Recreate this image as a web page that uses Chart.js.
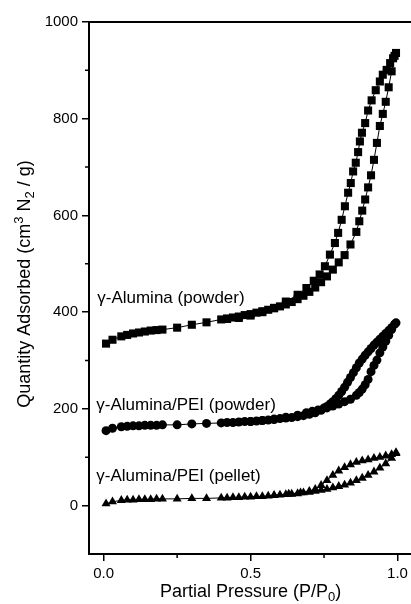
<!DOCTYPE html>
<html>
<head>
<meta charset="utf-8">
<script src="https://cdn.jsdelivr.net/npm/chart.js@4/dist/chart.umd.min.js"></script>
<style>
  html, body { margin: 0; padding: 0; background: #fff; }
  canvas { display: block; }
</style>
</head>
<body>
<canvas id="iso" width="411" height="604"></canvas>
<script>
// N2 physisorption isotherms: adsorption branch (rising P/P0) then desorption branch (falling P/P0)
const aluminaAdsP = [0.008,0.03,0.06,0.08,0.10,0.12,0.14,0.16,0.18,0.20,0.25,0.30,0.35,0.40,0.42,0.44,0.46,0.48,0.50,0.52,0.54,0.56,0.58,0.60,0.62,0.64,0.66,0.68,0.70,0.72,0.74,0.76,0.78,0.80,0.82,0.84,0.86,0.87,0.88,0.89,0.90,0.91,0.92,0.93,0.94,0.95,0.96,0.97,0.98,0.99];
const aluminaAdsQ = [335,343,350,353,356,358,360,362,363,364,368,374,379,385,387,389,391,394,396,399,402,405,408,412,416,421,427,434,442,451,462,474,488,503,518,540,566,588,610,633,658,683,715,750,785,810,835,865,898,930];
const aluminaDesP = [0.995,0.985,0.975,0.963,0.95,0.94,0.926,0.912,0.90,0.89,0.879,0.872,0.866,0.858,0.849,0.841,0.832,0.821,0.81,0.798,0.787,0.77,0.753,0.735,0.715,0.69,0.66,0.62,0.58,0.54,0.50,0.46,0.42];
const aluminaDesQ = [936,925,915,901,891,877,859,838,817,791,771,753,731,709,691,667,647,619,591,564,543,519,495,478,465,450,436,422,409,400,393,388,386];

const peiPowderAdsP = [0.008,0.03,0.06,0.08,0.10,0.12,0.14,0.16,0.18,0.20,0.25,0.30,0.35,0.40,0.42,0.44,0.46,0.48,0.50,0.52,0.54,0.56,0.58,0.60,0.62,0.64,0.66,0.68,0.70,0.72,0.74,0.76,0.78,0.80,0.82,0.84,0.86,0.87,0.88,0.89,0.90,0.91,0.92,0.93,0.94,0.95,0.96,0.97,0.98,0.99];
const peiPowderAdsQ = [155,160,163,164,165,165,166,166,166,167,167,169,170,171,172,172,173,174,174,175,176,177,178,180,181,182,184,186,189,192,197,202,206,210,215,220,228,234,241,250,261,277,290,301,316,328,340,352,364,375];
const peiPowderDesP = [0.995,0.98,0.97,0.96,0.95,0.94,0.93,0.92,0.91,0.90,0.89,0.88,0.87,0.86,0.85,0.84,0.83,0.82,0.81,0.80,0.79,0.78,0.77,0.76,0.75,0.73,0.71,0.69,0.66,0.62,0.58,0.54,0.50];
const peiPowderDesQ = [378,368,362,356,350,344,338,332,325,318,311,303,295,285,275,265,255,245,236,228,221,215,210,205,202,198,195,192,187,183,179,176,174];

const peiPelletAdsP = [0.008,0.03,0.06,0.08,0.10,0.12,0.14,0.16,0.18,0.20,0.25,0.30,0.35,0.40,0.42,0.44,0.46,0.48,0.50,0.52,0.54,0.56,0.58,0.60,0.62,0.64,0.66,0.68,0.70,0.72,0.74,0.76,0.78,0.80,0.82,0.84,0.86,0.88,0.90,0.92,0.94,0.96,0.98,0.995];
const peiPelletAdsQ = [4,8,11,12,12,13,13,13,14,14,14,15,15,16,16,17,17,18,18,19,19,20,21,22,23,24,25,27,28,30,32,34,37,40,43,47,52,57,63,70,78,87,98,108];
const peiPelletDesP = [0.995,0.98,0.96,0.94,0.92,0.90,0.88,0.86,0.84,0.82,0.80,0.78,0.76,0.74,0.72,0.70,0.67,0.63,0.58];
const peiPelletDesQ = [110,106,103,100,98,95,93,90,85,79,72,63,52,42,34,30,27,24,21];

const sampleNames = ['\u03b3-Alumina (powder)', '\u03b3-Alumina/PEI (powder)', '\u03b3-Alumina/PEI (pellet)'];
const xTickValues = [0, 0.5, 1.0];
const yTickValues = [0, 200, 400, 600, 800, 1000];

function loop(adsP, adsQ, desP, desQ) {
  const pts = adsP.map((p, i) => ({ x: p, y: adsQ[i] }));
  return pts.concat(desP.map((p, i) => ({ x: p, y: desQ[i] })));
}

const FONT = '"Liberation Sans", Arial, Helvetica, sans-serif';
Chart.defaults.font.family = FONT;
Chart.defaults.color = '#000';

function series(label, data, style, radius) {
  return {
    label, data,
    showLine: true,
    borderColor: '#000',
    borderWidth: 1,
    backgroundColor: '#000',
    pointStyle: style,
    pointRadius: radius,
    pointBorderWidth: 0,
    pointBackgroundColor: '#000',
    tension: 0
  };
}

// draws a run of text pieces, some raised or lowered, centred on (x, y)
function richText(ctx, parts, x, y) {
  let total = 0;
  parts.forEach(p => { ctx.font = p.size + 'px ' + FONT; p.w = ctx.measureText(p.t).width; total += p.w; });
  let cx = x - total / 2;
  ctx.textAlign = 'left';
  ctx.textBaseline = 'alphabetic';
  parts.forEach(p => {
    ctx.font = p.size + 'px ' + FONT;
    ctx.fillText(p.t, cx, y + (p.dy || 0));
    cx += p.w;
  });
}

const decorations = {
  id: 'decorations',
  afterDraw(chart) {
    const { ctx, chartArea, scales } = chart;
    const xs = scales.x, ys = scales.y;
    ctx.save();
    ctx.fillStyle = '#000';
    ctx.strokeStyle = '#000';

    // top frame line
    ctx.lineWidth = 2;
    ctx.beginPath();
    ctx.moveTo(chartArea.left - 1, chartArea.top);
    ctx.lineTo(chartArea.right, chartArea.top);
    ctx.stroke();

    // minor ticks
    ctx.lineWidth = 1.5;
    ctx.beginPath();
    [0.25, 0.75].forEach(v => {
      const px = xs.getPixelForValue(v);
      ctx.moveTo(px, chartArea.bottom);
      ctx.lineTo(px, chartArea.bottom + 4);
    });
    [100, 300, 500, 700, 900].forEach(v => {
      const py = ys.getPixelForValue(v);
      ctx.moveTo(chartArea.left, py);
      ctx.lineTo(chartArea.left - 4, py);
    });
    ctx.stroke();

    // sample labels
    ctx.font = '17px ' + FONT;
    ctx.textAlign = 'left';
    ctx.textBaseline = 'alphabetic';
    const labelPos = [[-0.022, 420], [-0.025, 198], [-0.025, 50]];
    sampleNames.forEach((name, i) => {
      ctx.fillText(name, xs.getPixelForValue(labelPos[i][0]), ys.getPixelForValue(labelPos[i][1]));
    });

    // x axis title
    richText(ctx, [
      { t: 'Partial Pressure (P/P', size: 18 },
      { t: '0', size: 13, dy: 4 },
      { t: ')', size: 18 }
    ], xs.getPixelForValue(0.5), 597);

    // y axis title
    ctx.save();
    ctx.translate(30, 284);
    ctx.rotate(-Math.PI / 2);
    richText(ctx, [
      { t: 'Quantity Adsorbed (cm', size: 18 },
      { t: '3', size: 13, dy: -7 },
      { t: ' N', size: 18 },
      { t: '2', size: 13, dy: 4 },
      { t: ' / g)', size: 18 }
    ], 0, 0);
    ctx.restore();

    ctx.restore();
  }
};

new Chart(document.getElementById('iso'), {
  type: 'scatter',
  data: {
    datasets: [
      series(sampleNames[0], loop(aluminaAdsP, aluminaAdsQ, aluminaDesP, aluminaDesQ), 'rect', 5.7),
      series(sampleNames[1], loop(peiPowderAdsP, peiPowderAdsQ, peiPowderDesP, peiPowderDesQ), 'circle', 4.5),
      series(sampleNames[2], loop(peiPelletAdsP, peiPelletAdsQ, peiPelletDesP, peiPelletDesQ), 'triangle', 5.2)
    ]
  },
  options: {
    responsive: false,
    animation: false,
    devicePixelRatio: 1,
    layout: { autoPadding: false, padding: { top: 22, right: 0, bottom: 0, left: 0 } },
    plugins: { legend: { display: false }, tooltip: { enabled: false } },
    scales: {
      x: {
        type: 'linear',
        min: -0.05, max: 1.046,
        afterFit(scale) { scale.height = 50; scale.paddingLeft = 0; scale.paddingRight = 0; },
        afterBuildTicks(scale) { scale.ticks = xTickValues.map(v => ({ value: v })); },
        ticks: { font: { size: 15 }, color: '#000', padding: 4, maxRotation: 0,
                 callback: v => Number(v).toFixed(1) },
        grid: { drawOnChartArea: false, drawTicks: true, tickLength: 7, color: '#000', lineWidth: 1.5 },
        border: { display: true, color: '#000', width: 2 }
      },
      y: {
        type: 'linear',
        min: -100, max: 1000,
        afterFit(scale) { scale.width = 89; },
        afterBuildTicks(scale) { scale.ticks = yTickValues.map(v => ({ value: v })); },
        ticks: { font: { size: 15 }, color: '#000', padding: 4,
                 callback: v => String(v) },
        grid: { drawOnChartArea: false, drawTicks: true, tickLength: 7, color: '#000', lineWidth: 1.5 },
        border: { display: true, color: '#000', width: 2 }
      }
    }
  },
  plugins: [decorations]
});
</script>
</body>
</html>
